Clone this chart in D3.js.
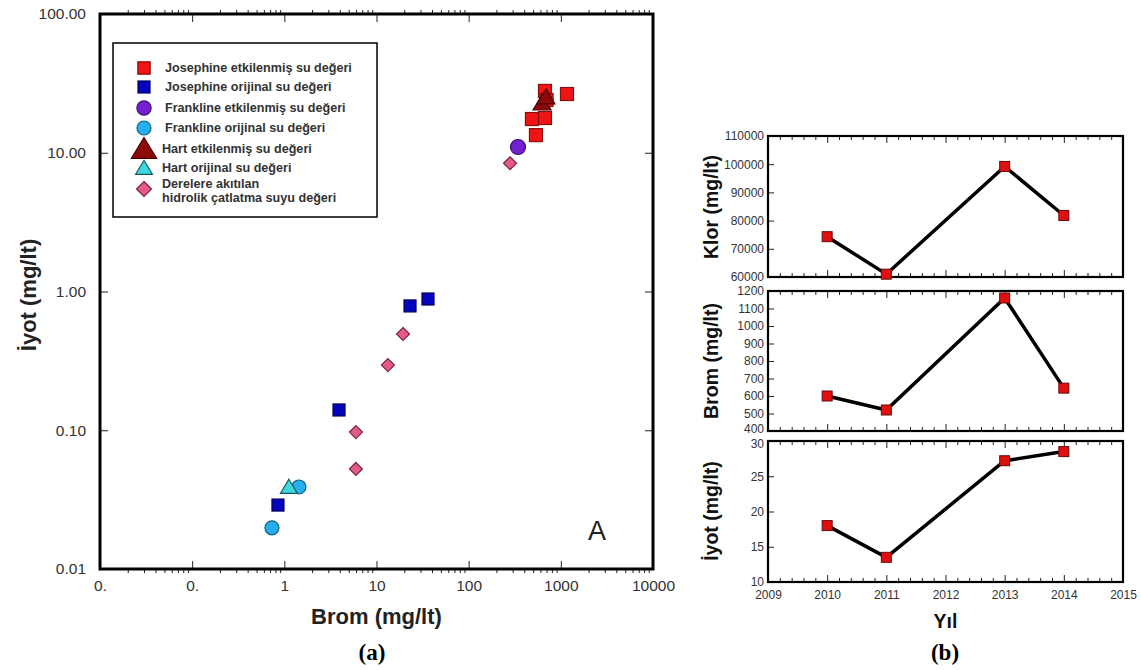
<!DOCTYPE html>
<html>
<head>
<meta charset="utf-8">
<script src="https://cdn.jsdelivr.net/npm/d3@7"></script>
<style>
  body { margin: 0; background: white; }
  svg { font-family: "Liberation Sans", Arial, sans-serif; }
  .tick text { fill: #333; }
  .frame { fill: none; stroke: black; }
</style>
</head>
<body>
<div id="chart"></div>
<script>
// ---- panel (a) data: Brom vs Iyot (mg/lt) ----
var brom_ticks = [0.01, 0.1, 1, 10, 100, 1000, 10000];
var brom_tick_labels = ["0.", "0.", "1", "10", "100", "1000", "10000"];
var iyot_ticks = [0.01, 0.1, 1, 10, 100];
var iyot_tick_labels = ["0.01", "0.10", "1.00", "10.00", "100.00"];

var josephine_etk = [[673, 27.9], [700, 24.0], [1166, 26.5], [486, 17.5], [673, 17.8], [537, 13.4]];
var josephine_orj = [[23.1, 0.787], [36.2, 0.883], [3.92, 0.140], [0.853, 0.0289]];
var frankline_etk = [[343, 11.0]];
var frankline_orj = [[1.44, 0.039], [0.734, 0.0198]];
var hart_etk = [[625, 22.8], [690, 25.2]];
var hart_orj = [[1.12, 0.039]];
var dere_suyu = [[281, 8.4], [19.4, 0.494], [13.3, 0.295], [5.98, 0.097], [5.98, 0.0526]];

var legend_labels = [
  "Josephine etkilenmiş su değeri",
  "Josephine orijinal su değeri",
  "Frankline etkilenmiş su değeri",
  "Frankline orijinal su değeri",
  "Hart etkilenmiş su değeri",
  "Hart orijinal su değeri",
  ["Derelere akıtılan", "hidrolik çatlatma suyu değeri"]
];

// ---- panel (b) data: yearly values ----
var yil = [2010, 2011, 2013, 2014];
var yil_ticks = [2009, 2010, 2011, 2012, 2013, 2014, 2015];
var klor = [74300, 61000, 99200, 81800];
var klor_ticks = [60000, 70000, 80000, 90000, 100000, 110000];
var brom_yil = [600, 520, 1160, 645];
var brom_yil_ticks = [400, 500, 600, 700, 800, 900, 1000, 1100, 1200];
var iyot_yil = [18, 13.5, 27.2, 28.5];
var iyot_yil_ticks = [10, 15, 20, 25, 30];

var svg = d3.select("#chart").append("svg")
  .attr("width", 1141)
  .attr("height", 670)
  .style("background", "white");

// ================= panel (a) =================
var A = {left: 100, right: 653, top: 14, bottom: 569};

var xscale = d3.scaleLog().domain([0.01, 10000]).range([A.left, A.right]);
var yscale = d3.scaleLog().domain([0.01, 100]).range([A.bottom, A.top]);

var minor_x = [];
brom_ticks.slice(0, -1).forEach(function (d) {
  for (var k = 2; k <= 9; k++) minor_x.push(d * k);
});

var ga = svg.append("g");

function clean(g) {
  g.select(".domain").remove();
  g.selectAll(".tick line").attr("stroke", "#222");
  return g;
}

ga.append("g")
  .attr("transform", "translate(0," + A.bottom + ")")
  .call(d3.axisBottom(xscale).tickValues(brom_ticks).tickSize(-8).tickPadding(11)
    .tickFormat(function (d, i) { return brom_tick_labels[i]; }))
  .call(clean)
  .selectAll("text").style("font-size", "15.5px");

ga.append("g")
  .attr("transform", "translate(0," + A.bottom + ")")
  .call(d3.axisBottom(xscale).tickValues(minor_x).tickSize(4).tickFormat(""))
  .call(clean);

ga.append("g")
  .attr("transform", "translate(0," + A.top + ")")
  .call(d3.axisTop(xscale).tickValues(brom_ticks).tickSize(-8).tickFormat(""))
  .call(clean);

ga.append("g")
  .attr("transform", "translate(0," + A.top + ")")
  .call(d3.axisTop(xscale).tickValues(minor_x).tickSize(4).tickFormat(""))
  .call(clean);

ga.append("g")
  .attr("transform", "translate(" + A.left + ",0)")
  .call(d3.axisLeft(yscale).tickValues(iyot_ticks).tickSize(-8).tickPadding(14)
    .tickFormat(function (d, i) { return iyot_tick_labels[i]; }))
  .call(clean)
  .selectAll("text").style("font-size", "15.5px");

ga.append("g")
  .attr("transform", "translate(" + A.right + ",0)")
  .call(d3.axisRight(yscale).tickValues(iyot_ticks).tickSize(-8).tickFormat(""))
  .call(clean);

ga.append("rect").attr("class", "frame")
  .attr("x", A.left).attr("y", A.top)
  .attr("width", A.right - A.left).attr("height", A.bottom - A.top)
  .attr("stroke-width", 3);

// marker styles
var styles = {
  josephine_etk: {shape: "square", size: 13, fill: "#f01414", stroke: "#8a1010"},
  josephine_orj: {shape: "square", size: 12, fill: "#0505c0", stroke: "#00005a"},
  frankline_etk: {shape: "circle", size: 15, fill: "#7420d0", stroke: "#3a1070"},
  frankline_orj: {shape: "circle", size: 14, fill: "#25aef0", stroke: "#14607e"},
  hart_etk: {shape: "triangle", size: 15, fill: "#8c0a0a", stroke: "#4a0000"},
  hart_orj: {shape: "triangle", size: 14, fill: "#3fd6e0", stroke: "#135a60"},
  dere_suyu: {shape: "diamond", size: 13, fill: "#e35b8c", stroke: "#7a2444"}
};

function marker(sel, st, scale) {
  var s = st.size * (scale || 1);
  if (st.shape === "square") {
    sel.append("rect").attr("x", -s / 2).attr("y", -s / 2).attr("width", s).attr("height", s);
  } else if (st.shape === "circle") {
    sel.append("circle").attr("r", s / 2);
  } else if (st.shape === "triangle") {
    sel.append("path").attr("d", "M0," + (-s * 0.55) + "L" + (s * 0.6) + "," + (s * 0.45) + "L" + (-s * 0.6) + "," + (s * 0.45) + "Z");
  } else {
    var h = s / 2;
    sel.append("path").attr("d", "M0," + (-h) + "L" + h + ",0L0," + h + "L" + (-h) + ",0Z");
  }
  sel.selectAll("*").attr("fill", st.fill).attr("stroke", st.stroke).attr("stroke-width", 1.2);
}

var series = [
  ["dere_suyu", dere_suyu],
  ["josephine_orj", josephine_orj],
  ["frankline_orj", frankline_orj],
  ["hart_orj", hart_orj],
  ["frankline_etk", frankline_etk],
  ["josephine_etk", josephine_etk],
  ["hart_etk", hart_etk]
];

series.forEach(function (s) {
  var st = styles[s[0]];
  ga.append("g").selectAll("g")
    .data(s[1])
    .enter().append("g")
    .attr("transform", function (d) { return "translate(" + xscale(d[0]) + "," + yscale(d[1]) + ")"; })
    .each(function () { marker(d3.select(this), st); });
});

// legend
var legend_keys = ["josephine_etk", "josephine_orj", "frankline_etk", "frankline_orj", "hart_etk", "hart_orj", "dere_suyu"];
var legend_scale = [0.95, 1, 0.95, 1, 1.4, 1, 1.15];
var legend_y = [68, 87, 108, 128, 149, 168, 189];

ga.append("rect").attr("class", "frame")
  .attr("x", 113).attr("y", 43).attr("width", 264).attr("height", 174)
  .attr("stroke", "#444").attr("stroke-width", 1.5);

legend_keys.forEach(function (k, i) {
  var g = ga.append("g").attr("transform", "translate(144," + legend_y[i] + ")");
  marker(g, styles[k], legend_scale[i]);
  var lab = legend_labels[i];
  var t = ga.append("text")
    .attr("x", i >= 4 ? 162 : 165)
    .attr("y", legend_y[i] + 4)
    .style("font-size", "12.6px")
    .style("font-weight", "bold")
    .style("fill", "#333");
  if (Array.isArray(lab)) {
    t.attr("y", legend_y[i] - 1);
    lab.forEach(function (l, j) {
      t.append("tspan").attr("x", 162).attr("dy", j === 0 ? 0 : 14).text(l);
    });
  } else {
    t.text(lab);
  }
});

ga.append("text")
  .attr("x", 597).attr("y", 540)
  .attr("text-anchor", "middle")
  .style("font-size", "27px")
  .style("fill", "#222")
  .text("A");

ga.append("text")
  .attr("x", (A.left + A.right) / 2).attr("y", 624)
  .attr("text-anchor", "middle")
  .style("font-size", "22px").style("font-weight", "bold").style("fill", "#222")
  .text("Brom (mg/lt)");

ga.append("text")
  .attr("transform", "translate(36,295)rotate(-90)")
  .attr("text-anchor", "middle")
  .style("font-size", "22px").style("font-weight", "bold").style("fill", "#222")
  .text("İyot (mg/lt)");

ga.append("text")
  .attr("x", 372).attr("y", 660)
  .attr("text-anchor", "middle")
  .style("font-family", "'Liberation Serif', 'Times New Roman', serif")
  .style("font-size", "23px").style("font-weight", "bold")
  .text("(a)");

// ================= panel (b) =================
var B = {left: 768, right: 1123};
var xyil = d3.scaleLinear().domain([2009, 2015]).range([B.left, B.right]);

var minor_yil = d3.range(2009, 2015.001, 0.2).filter(function (d) {
  return Math.abs(d - Math.round(d)) > 0.01;
});

var panels = [
  {values: klor, ticks: klor_ticks, top: 136, bottom: 277, label: "Klor (mg/lt)", ly: 207},
  {values: brom_yil, ticks: brom_yil_ticks, top: 291, bottom: 431, label: "Brom (mg/lt)", ly: 361},
  {values: iyot_yil, ticks: iyot_yil_ticks, top: 441, bottom: 582, label: "İyot (mg/lt)", ly: 511}
];

panels.forEach(function (p, pi) {
  var gb = svg.append("g");
  var ys = d3.scaleLinear().domain(d3.extent(p.ticks)).range([p.bottom, p.top]);

  gb.append("g")
    .attr("transform", "translate(0," + p.bottom + ")")
    .call(d3.axisBottom(xyil).tickValues(yil_ticks).tickSize(-7).tickPadding(8)
      .tickFormat(pi === 2 ? d3.format("d") : ""))
    .call(clean)
    .selectAll("text").style("font-size", "12px");

  gb.append("g")
    .attr("transform", "translate(0," + p.bottom + ")")
    .call(d3.axisBottom(xyil).tickValues(minor_yil).tickSize(-4).tickFormat(""))
    .call(clean);

  gb.append("g")
    .attr("transform", "translate(0," + p.top + ")")
    .call(d3.axisTop(xyil).tickValues(yil_ticks).tickSize(-7).tickFormat(""))
    .call(clean);

  gb.append("g")
    .attr("transform", "translate(0," + p.top + ")")
    .call(d3.axisTop(xyil).tickValues(minor_yil).tickSize(-4).tickFormat(""))
    .call(clean);

  var yax = gb.append("g")
    .attr("transform", "translate(" + B.left + ",0)")
    .call(d3.axisLeft(ys).tickValues(p.ticks).tickSize(-6).tickPadding(4).tickFormat(d3.format("d")))
    .call(clean);
  yax.selectAll("text").style("font-size", "12px");
  // keep the end labels of stacked panels from touching
  if (pi === 1) yax.selectAll("text").filter(function (d) { return d === 400; }).attr("dy", "0.1em");
  if (pi === 2) yax.selectAll("text").filter(function (d) { return d === 30; }).attr("dy", "0.55em");

  gb.append("rect").attr("class", "frame")
    .attr("x", B.left).attr("y", p.top)
    .attr("width", B.right - B.left).attr("height", p.bottom - p.top)
    .attr("stroke-width", 2.2);

  var pts = yil.map(function (y, i) { return [y, p.values[i]]; });

  gb.append("path")
    .datum(pts)
    .attr("fill", "none")
    .attr("stroke", "black")
    .attr("stroke-width", 3.5)
    .attr("d", d3.line()
      .x(function (d) { return xyil(d[0]); })
      .y(function (d) { return ys(d[1]); }));

  gb.selectAll("rect.pt")
    .data(pts)
    .enter().append("rect")
    .attr("class", "pt")
    .attr("x", function (d) { return xyil(d[0]) - 5; })
    .attr("y", function (d) { return ys(d[1]) - 5; })
    .attr("width", 10).attr("height", 10)
    .attr("fill", "#e01010")
    .attr("stroke", "#6a0a0a")
    .attr("stroke-width", 1);

  gb.append("text")
    .attr("transform", "translate(718," + p.ly + ")rotate(-90)")
    .attr("text-anchor", "middle")
    .style("font-size", "19.5px").style("font-weight", "bold").style("fill", "#111")
    .text(p.label);
});

svg.append("text")
  .attr("x", (B.left + B.right) / 2).attr("y", 628)
  .attr("text-anchor", "middle")
  .style("font-size", "19.5px").style("font-weight", "bold").style("fill", "#111")
  .text("Yıl");

svg.append("text")
  .attr("x", 945).attr("y", 660)
  .attr("text-anchor", "middle")
  .style("font-family", "'Liberation Serif', 'Times New Roman', serif")
  .style("font-size", "23px").style("font-weight", "bold")
  .text("(b)");
</script>
</body>
</html>
